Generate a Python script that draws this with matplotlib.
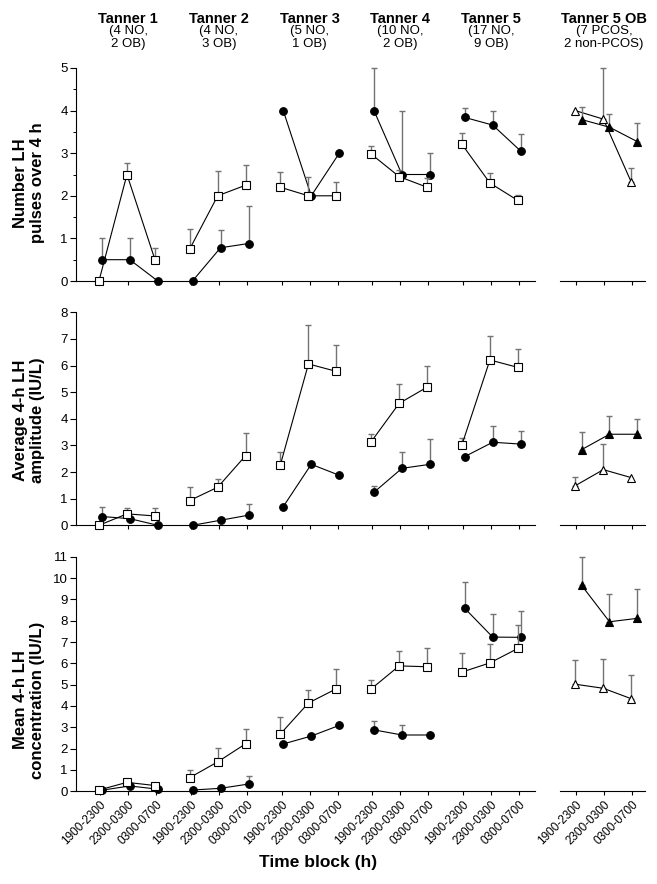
import numpy as np
import matplotlib
matplotlib.use('Agg')
import matplotlib.pyplot as plt
import matplotlib.transforms as mtransforms
from matplotlib.ticker import MultipleLocator

plt.rcParams['font.family'] = ['Liberation Sans', 'DejaVu Sans']

# groups and labels
groups = ['Tanner 1', 'Tanner 2', 'Tanner 3', 'Tanner 4', 'Tanner 5']
group_notes = ['(4 NO,\n2 OB)', '(4 NO,\n3 OB)', '(5 NO,\n1 OB)',
               '(10 NO,\n2 OB)', '(17 NO,\n9 OB)']
ob_group = 'Tanner 5 OB'
ob_note = '(7 PCOS,\n2 non-PCOS)'
time_blocks = ['1900-2300', '2300-0300', '0300-0700']

# row 1: number of LH pulses over 4 h (mean, upper SE)
pulses_no = [[0, 2.5, 0.5], [0.75, 2.0, 2.25], [2.2, 2.0, 2.0], [2.98, 2.45, 2.2], [3.21, 2.3, 1.89]]
pulses_no_se = [[0, 0.28, 0.28], [0.48, 0.58, 0.48], [0.37, 0.44, 0.32], [0.19, 0.15, 0.22], [0.27, 0.23, 0.14]]
pulses_ob = [[0.5, 0.5, 0], [0, 0.78, 0.88], [4.0, 2.0, 3.0], [4.0, 2.5, 2.5], [3.84, 3.66, 3.05]]
pulses_ob_se = [[0.5, 0.5, 0], [0, 0.41, 0.89], [0, 0, 0], [1.0, 1.5, 0.5], [0.23, 0.32, 0.39]]
pulses_open_tri = [4.0, 3.8, 2.32]
pulses_open_tri_se = [0, 1.2, 0.34]
pulses_fill_tri = [3.79, 3.61, 3.27]
pulses_fill_tri_se = [0.3, 0.32, 0.45]

# row 2: average 4-h LH amplitude
amp_no = [[0, 0.43, 0.35], [0.93, 1.43, 2.62], [2.28, 6.06, 5.78], [3.14, 4.58, 5.19], [3.02, 6.21, 5.93]]
amp_no_se = [[0, 0.21, 0.29], [0.52, 0.31, 0.83], [0.46, 1.46, 1.0], [0.28, 0.74, 0.79], [0.27, 0.91, 0.68]]
amp_ob = [[0.33, 0.25, 0], [0, 0.19, 0.38], [0.70, 2.29, 1.88], [1.24, 2.14, 2.29], [2.58, 3.12, 3.05]]
amp_ob_se = [[0.35, 0, 0], [0, 0.1, 0.41], [0, 0, 0], [0.25, 0.61, 0.94], [0, 0.6, 0.49]]
amp_open_tri = [1.49, 2.09, 1.79]
amp_open_tri_se = [0.34, 0.98, 0]
amp_fill_tri = [2.84, 3.42, 3.42]
amp_fill_tri_se = [0.68, 0.7, 0.56]

# row 3: mean 4-h LH concentration
conc_no = [[0.06, 0.42, 0.27], [0.64, 1.38, 2.23], [2.69, 4.14, 4.81], [4.8, 5.88, 5.84], [5.59, 6.02, 6.7]]
conc_no_se = [[0, 0.15, 0], [0.38, 0.65, 0.69], [0.78, 0.59, 0.94], [0.43, 0.71, 0.86], [0.88, 0.87, 1.08]]
conc_ob = [[0.05, 0.25, 0.1], [0.06, 0.14, 0.34], [2.22, 2.59, 3.09], [2.88, 2.64, 2.64], [8.58, 7.23, 7.22]]
conc_ob_se = [[0, 0, 0], [0, 0, 0.36], [0, 0, 0], [0.42, 0.45, 0], [1.25, 1.07, 1.22]]
conc_open_tri = [5.02, 4.83, 4.34]
conc_open_tri_se = [1.12, 1.36, 1.11]
conc_fill_tri = [9.66, 7.95, 8.11]
conc_fill_tri_se = [1.34, 1.28, 1.36]

rows = [
    ('Number LH\npulses over 4 h', 5, True, pulses_no, pulses_no_se, pulses_ob, pulses_ob_se,
     pulses_open_tri, pulses_open_tri_se, pulses_fill_tri, pulses_fill_tri_se),
    ('Average 4-h LH\namplitude (IU/L)', 8, False, amp_no, amp_no_se, amp_ob, amp_ob_se,
     amp_open_tri, amp_open_tri_se, amp_fill_tri, amp_fill_tri_se),
    ('Mean 4-h LH\nconcentration (IU/L)', 11, False, conc_no, conc_no_se, conc_ob, conc_ob_se,
     conc_open_tri, conc_open_tri_se, conc_fill_tri, conc_fill_tri_se),
]

W, H = 657, 884
fig = plt.figure(figsize=(W / 100, H / 100), dpi=100)

# axes boxes in pixels (bottom, top)
row_px = [(281, 68), (525.3, 312.3), (791.3, 556.7)]
label_y = [183, 420, 700]
G = 3.24  # group step in x units
ecol = '0.45'


def draw(ax, x, m, se, marker, face, zo):
    m = np.array(m, float)
    se = np.array(se, float)
    k = se > 0
    if k.any():
        ax.errorbar(x[k], m[k], yerr=[np.zeros(k.sum()), se[k]], fmt='none',
                    ecolor=ecol, elinewidth=1.0, capsize=2.2, capthick=1.0,
                    zorder=zo - 1, clip_on=False)
    ax.plot(x, m, '-', color='black', lw=0.8, zorder=zo - 0.5, clip_on=False)
    ax.plot(x, m, marker, ms=5.5 if marker != 's' else 5.2, mfc=face, mec='black',
            mew=0.8, ls='none', zorder=zo, clip_on=False)


def style(ax, ymax, minor, bottom, left):
    ax.set_ylim(0, ymax)
    for s in ['top', 'right']:
        ax.spines[s].set_visible(False)
    ax.spines['bottom'].set_linewidth(0.8)
    ax.spines['left'].set_linewidth(0.8)
    ax.tick_params(axis='x', direction='out', length=3, width=0.8, pad=2)
    if left:
        ax.yaxis.set_major_locator(MultipleLocator(1))
        if minor:
            ax.yaxis.set_minor_locator(MultipleLocator(0.5))
        ax.tick_params(axis='y', which='major', direction='out', length=4, width=0.8, labelsize=9.5, pad=2)
        ax.tick_params(axis='y', which='minor', direction='out', length=2.5, width=0.7)
    else:
        ax.spines['left'].set_visible(False)
        ax.set_yticks([])
    if bottom:
        for lab in ax.get_xticklabels():
            lab.set_rotation(45)
            lab.set_ha('right')
            lab.set_rotation_mode('anchor')
            lab.set_fontsize(8.5)
    else:
        ax.set_xticklabels([])


for r, (ylab, ymax, minor, no_m, no_s, ob_m, ob_s, ot_m, ot_s, ft_m, ft_s) in enumerate(rows):
    pb, pt = row_px[r]
    b = 1 - pb / H
    h = (pb - pt) / H
    axl = fig.add_axes([76 / W, b, (535 - 76) / W, h])
    axr = fig.add_axes([560 / W, b, (645 - 560) / W, h])
    axl.set_xlim(-0.86, 4 * G + 2 + 0.57)
    axr.set_xlim(-0.57, 2.47)

    ticks = []
    for g in range(len(groups)):
        x = g * G + np.arange(3)
        ticks += list(x)
        draw(axl, x + 0.06, ob_m[g], ob_s[g], 'o', 'black', 4)
        draw(axl, x - 0.04, no_m[g], no_s[g], 's', 'white', 6)
    axl.set_xticks(ticks)
    axl.set_xticklabels(time_blocks * len(groups))

    xr = np.arange(3)
    draw(axr, xr - 0.02, ot_m, ot_s, '^', 'white', 4)
    draw(axr, xr + 0.2, ft_m, ft_s, '^', 'black', 6)
    axr.set_xticks(xr)
    axr.set_xticklabels(time_blocks)

    style(axl, ymax, minor, r == 2, True)
    style(axr, ymax, minor, r == 2, False)

    fig.text(29 / W, 1 - label_y[r] / H, ylab, rotation=90, ha='center', va='center',
             fontsize=12, fontweight='bold', linespacing=1.2)

    if r == 0:
        tr = mtransforms.blended_transform_factory(axl.transData, fig.transFigure)
        for g, (name, note) in enumerate(zip(groups, group_notes)):
            axl.text(g * G + 1, 1 - 23 / H, name, transform=tr, ha='center', va='baseline',
                     fontsize=10.5, fontweight='bold')
            axl.text(g * G + 1, 1 - 25 / H, note, transform=tr, ha='center', va='top',
                     fontsize=9.5, linespacing=1.1)
        trr = mtransforms.blended_transform_factory(axr.transData, fig.transFigure)
        axr.text(1, 1 - 23 / H, ob_group, transform=trr, ha='center', va='baseline',
                 fontsize=10.5, fontweight='bold')
        axr.text(1, 1 - 25 / H, ob_note, transform=trr, ha='center', va='top',
                 fontsize=9.5, linespacing=1.1)

fig.text(318 / W, 1 - 863 / H, 'Time block (h)', ha='center', va='center',
         fontsize=12.5, fontweight='bold')

fig.savefig('out.png', dpi=100)
